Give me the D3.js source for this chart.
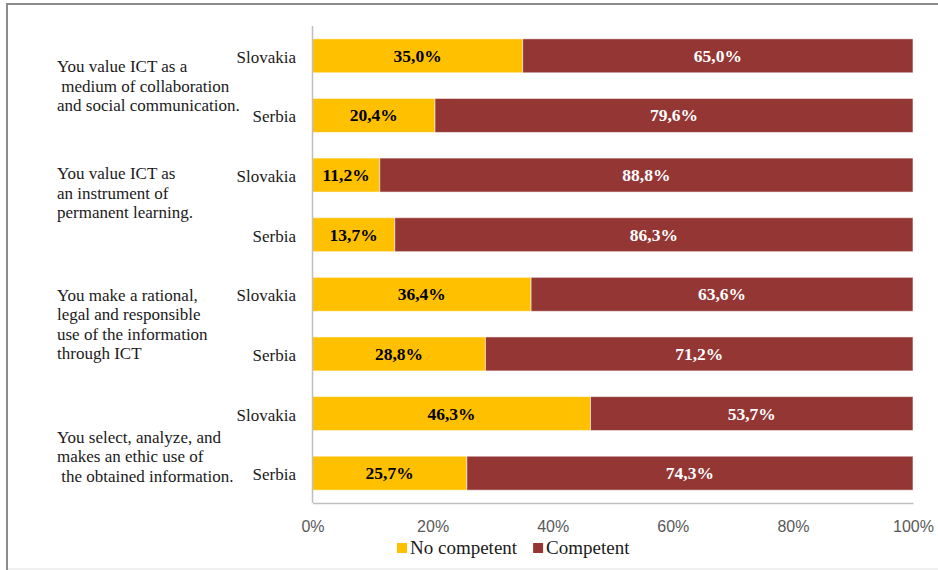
<!DOCTYPE html>
<html>
<head>
<meta charset="utf-8">
<script src="https://cdn.jsdelivr.net/npm/d3@7"></script>
<style>
  html, body { margin: 0; padding: 0; background: #fff; }
  svg { display: block; }
  .serif { font-family: "Liberation Serif", "Times New Roman", serif; }
</style>
</head>
<body>
<svg id="chart" width="938" height="570"></svg>
<script>
// Survey items (each shown as a multi-line label) and the two countries compared
const groupLabels = [
  ["You value ICT as a", " medium of collaboration", "and social communication."],
  ["You value ICT as", "an instrument of", "permanent learning."],
  ["You make a rational,", "legal and responsible", "use of the information", "through ICT"],
  ["You select, analyze, and", "makes an ethic use of", " the obtained information."]
];
const countries = ["Slovakia", "Serbia"];

// Share of respondents per item and country (percent), in row order
const noCompetent = [35.0, 20.4, 11.2, 13.7, 36.4, 28.8, 46.3, 25.7];
const competent   = [65.0, 79.6, 88.8, 86.3, 63.6, 71.2, 53.7, 74.3];

const seriesNames = ["No competent", "Competent"];
const xTicks = [0, 20, 40, 60, 80, 100];

const colors = { "No competent": "#FFC000", "Competent": "#943634" };

const svg = d3.select("#chart");

// outer frame
svg.append("line").attr("x1", 7).attr("x2", 7).attr("y1", 3).attr("y2", 570)
  .attr("stroke", "#8c8c8c").attr("stroke-width", 2);
svg.append("line").attr("x1", 6).attr("x2", 938).attr("y1", 4).attr("y2", 4)
  .attr("stroke", "#8c8c8c").attr("stroke-width", 2);
svg.append("line").attr("x1", 8).attr("x2", 938).attr("y1", 569).attr("y2", 569)
  .attr("stroke", "#e2e2e2").attr("stroke-width", 1);

const margin = { left: 312.5, right: 25, top: 26, bottom: 67 };
const W = 938, H = 570;

const rows = [];
groupLabels.forEach((g, gi) => {
  countries.forEach((c, ci) => {
    const i = gi * countries.length + ci;
    rows.push({ id: gi + "-" + c, group: gi, country: c,
                "No competent": noCompetent[i], "Competent": competent[i] });
  });
});

const x = d3.scaleLinear().domain([0, 100]).range([margin.left, W - margin.right]);
const y = d3.scaleBand().domain(rows.map(r => r.id))
  .range([margin.top, H - margin.bottom]).paddingInner(0.43).paddingOuter(0.215);

const stacked = d3.stack().keys(seriesNames)(rows);

// bars
const layers = svg.append("g").selectAll("g").data(stacked).join("g")
  .attr("fill", d => colors[d.key]);
layers.selectAll("rect").data(d => d.map(p => Object.assign(p, { key: d.key })))
  .join("rect")
  .attr("x", d => x(d[0]))
  .attr("y", d => y(d.data.id))
  .attr("width", d => x(d[1]) - x(d[0]))
  .attr("height", y.bandwidth())
  .attr("stroke", "#fff").attr("stroke-opacity", 0.55).attr("stroke-width", 1);

// value labels inside the segments
layers.selectAll("text").data(d => d).join("text")
  .attr("class", "serif")
  .attr("x", d => (x(d[0]) + x(d[1])) / 2)
  .attr("y", d => y(d.data.id) + y.bandwidth() / 2 + 6)
  .attr("text-anchor", "middle")
  .attr("font-size", 17.5).attr("font-weight", "bold")
  .attr("fill", d => d.key === "Competent" ? "#ffffff" : "#000000")
  .text(d => d3.format(".1f")(d[1] - d[0]).replace(".", ",") + "%");

// axis lines
const axisColor = "#bfbfbf";
svg.append("line").attr("x1", margin.left).attr("x2", margin.left)
  .attr("y1", margin.top).attr("y2", H - margin.bottom)
  .attr("stroke", axisColor).attr("stroke-width", 1.5);

const xAxis = svg.append("g").attr("transform", `translate(0,${H - margin.bottom})`)
  .call(d3.axisBottom(x).tickValues(xTicks).tickSize(0).tickPadding(18)
    .tickFormat(d => d + "%"));
xAxis.select(".domain").attr("stroke", axisColor).attr("stroke-width", 1.5);
xAxis.selectAll("text").attr("font-family", "'Liberation Sans', Arial, sans-serif")
  .attr("font-size", 16).attr("fill", "#595959");

// country labels
svg.append("g").selectAll("text").data(rows).join("text")
  .attr("class", "serif")
  .attr("x", 296)
  .attr("y", d => y(d.id) + y.bandwidth() / 2 + 7)
  .attr("text-anchor", "end")
  .attr("font-size", 17).attr("fill", "#1a1a1a")
  .text(d => d.country);

// item labels, left-aligned in the margin
const lineGap = 19.5;
const groupShift = [1, -11, 1, 14];
groupLabels.forEach((lines, gi) => {
  const first = y(gi + "-" + countries[0]);
  const last = y(gi + "-" + countries[countries.length - 1]) + y.bandwidth();
  const mid = (first + last) / 2 + groupShift[gi];
  const top = mid - (lines.length - 1) * lineGap / 2 + 5;
  svg.append("text").attr("class", "serif")
    .attr("font-size", 17).attr("fill", "#1a1a1a")
    .style("white-space", "pre")
    .selectAll("tspan").data(lines).join("tspan")
    .attr("x", 57).attr("y", (d, i) => top + i * lineGap)
    .text(d => d);
});

// legend
const legend = svg.append("g").attr("transform", "translate(397,548)");
let lx = 0;
seriesNames.forEach(name => {
  const g = legend.append("g").attr("transform", `translate(${lx},0)`);
  g.append("rect").attr("x", 0).attr("y", -5).attr("width", 10).attr("height", 10)
    .attr("fill", colors[name]);
  const t = g.append("text").attr("class", "serif").attr("x", 13).attr("y", 6)
    .attr("font-size", 19).attr("fill", "#1a1a1a").text(name);
  lx += 13 + t.node().getComputedTextLength() + 16;
});
</script>
</body>
</html>
